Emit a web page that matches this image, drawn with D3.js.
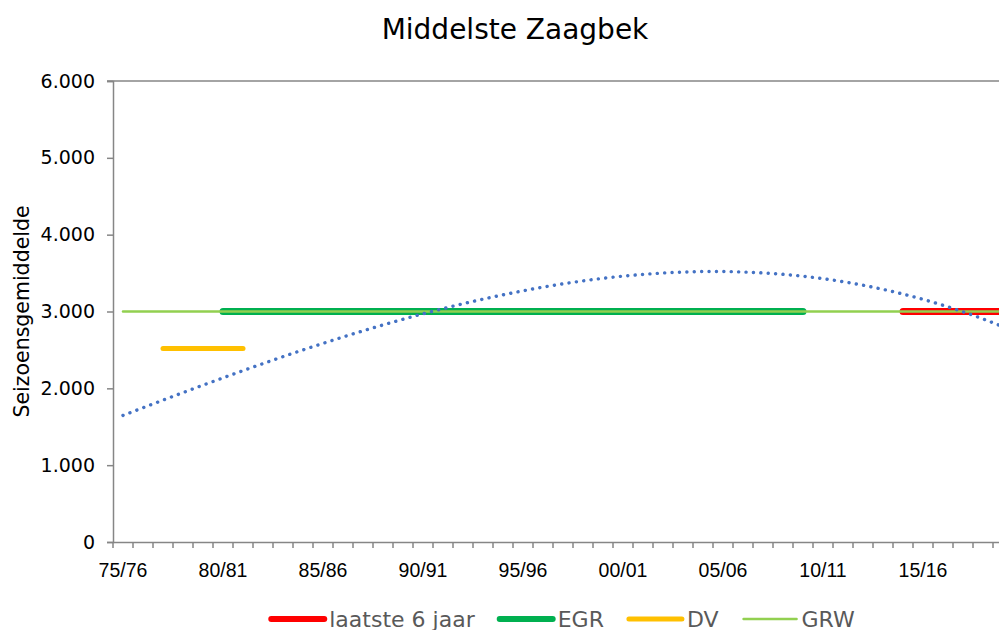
<!DOCTYPE html>
<html lang="nl">
<head>
<meta charset="UTF-8">
<script src="https://cdn.jsdelivr.net/npm/d3@7"></script>
<title>Middelste Zaagbek</title>
<style>
  body { margin: 0; background: #fff; }
  svg { display: block; font-family: "DejaVu Sans", sans-serif; }
</style>
</head>
<body>
<div id="chart"></div>
<script>
// seizoenen op de x-as (grafiek loopt rechts buiten beeld door)
const seasons = ["75/76","76/77","77/78","78/79","79/80","80/81","81/82","82/83","83/84","84/85",
  "85/86","86/87","87/88","88/89","89/90","90/91","91/92","92/93","93/94","94/95",
  "95/96","96/97","97/98","98/99","99/00","00/01","01/02","02/03","03/04","04/05",
  "05/06","06/07","07/08","08/09","09/10","10/11","11/12","12/13","13/14","14/15",
  "15/16","16/17","17/18","18/19","19/20"];
const tickSeasons = ["75/76","80/81","85/86","90/91","95/96","00/01","05/06","10/11","15/16"];
const yTicks = [0, 1000, 2000, 3000, 4000, 5000, 6000];

const trend = [1647,1747,1846,1944,2041,2136,2230,2322,2412,2500,
  2585,2668,2748,2825,2899,2970,3037,3101,3161,3217,
  3269,3317,3360,3398,3432,3460,3483,3501,3513,3520,
  3520,3514,3502,3484,3459,3427,3388,3342,3288,3227,
  3158,3081,2996,2903,2801];

const laatstePeriod = ["14/15", "19/20"], laatsteValue = 3000;
const egrPeriod = ["80/81", "09/10"], egrValue = 3000;
const dvPeriod = ["77/78", "81/82"], dvValue = 2520;
const grwPeriod = ["75/76", "19/20"], grwValue = 3000;

const width = 999, height = 630;
const plot = { left: 113, right: 1013, top: 81, bottom: 542 };
const axisColor = "#868686";

const svg = d3.select("#chart").append("svg")
    .attr("width", width)
    .attr("height", height);

const x = d3.scaleBand().domain(seasons).range([plot.left, plot.right]);
const y = d3.scaleLinear().domain([0, 6000]).range([plot.bottom, plot.top]);
const cx = s => x(s) + x.bandwidth() / 2;
const fmt = v => v === 0 ? "0" : d3.format(",")(v).replace(/,/g, ".");

svg.append("text")
    .attr("x", 515).attr("y", 39)
    .attr("text-anchor", "middle")
    .attr("font-size", 28)
    .attr("fill", "#000")
    .text("Middelste Zaagbek");

// top rand
svg.append("line")
    .attr("x1", plot.left - 6).attr("x2", plot.right)
    .attr("y1", y(6000)).attr("y2", y(6000))
    .attr("stroke", axisColor).attr("stroke-width", 1.5);

// y-as
const yAxis = svg.append("g")
    .attr("transform", `translate(${plot.left},0)`)
    .call(d3.axisLeft(y).tickValues(yTicks).tickFormat(fmt).tickSize(6).tickPadding(12));
yAxis.select(".domain").attr("stroke", axisColor).attr("stroke-width", 1.5);
yAxis.selectAll(".tick line").attr("stroke", axisColor).attr("stroke-width", 1.5);
yAxis.selectAll(".tick text")
    .attr("font-size", 19).attr("font-family", "DejaVu Sans").attr("fill", "#000");

// x-as
const xAxis = svg.append("g")
    .attr("transform", `translate(0,${plot.bottom})`)
    .call(d3.axisBottom(x).tickValues([]).tickSizeOuter(0));
xAxis.select(".domain").attr("stroke", axisColor).attr("stroke-width", 1.5);
xAxis.selectAll(".minor")
    .data(seasons)
    .enter().append("line")
    .attr("x1", d => x(d)).attr("x2", d => x(d))
    .attr("y1", 0).attr("y2", 6)
    .attr("stroke", axisColor).attr("stroke-width", 1.5);
xAxis.selectAll(".lbl")
    .data(tickSeasons)
    .enter().append("text")
    .attr("x", d => cx(d)).attr("y", 35)
    .attr("text-anchor", "middle")
    .attr("font-size", 19.5)
    .attr("fill", "#000")
    .text(d => d);

svg.append("text")
    .attr("transform", `translate(22,${(plot.top + plot.bottom) / 2}) rotate(-90)`)
    .attr("text-anchor", "middle")
    .attr("dominant-baseline", "central")
    .attr("font-size", 20.5)
    .attr("fill", "#000")
    .text("Seizoensgemiddelde");

// horizontale referentielijnen
function hline(period, value, color, w) {
    svg.append("line")
        .attr("x1", cx(period[0])).attr("x2", cx(period[1]))
        .attr("y1", y(value)).attr("y2", y(value))
        .attr("stroke", color).attr("stroke-width", w)
        .attr("stroke-linecap", "round");
}
hline(laatstePeriod, laatsteValue, "#FF0000", 7);
hline(egrPeriod, egrValue, "#00B050", 7);
hline(dvPeriod, dvValue, "#FFC000", 5);
hline(grwPeriod, grwValue, "#92D050", 2.5);

// trendlijn
const line = d3.line()
    .x((d, i) => cx(seasons[i]))
    .y(d => y(d))
    .curve(d3.curveMonotoneX);
svg.append("path")
    .datum(trend)
    .attr("d", line)
    .attr("fill", "none")
    .attr("stroke", "#4472C4")
    .attr("stroke-width", 3.4)
    .attr("stroke-linecap", "round")
    .attr("stroke-dasharray", "0.1 7.3");

// legenda
const legendItems = [
    { name: "laatste 6 jaar", color: "#FF0000", w: 6 },
    { name: "EGR", color: "#00B050", w: 6 },
    { name: "DV", color: "#FFC000", w: 5 },
    { name: "GRW", color: "#92D050", w: 2.5 }
];
const legend = svg.append("g");
let lx = 0;
legendItems.forEach(item => {
    legend.append("line")
        .attr("x1", lx + 2).attr("x2", lx + 55)
        .attr("y1", 619).attr("y2", 619)
        .attr("stroke", item.color).attr("stroke-width", item.w)
        .attr("stroke-linecap", "round");
    const t = legend.append("text")
        .attr("x", lx + 60).attr("y", 619)
        .attr("dominant-baseline", "central")
        .attr("font-size", 22)
        .attr("fill", "#595959")
        .text(item.name);
    lx += 60 + t.node().getComputedTextLength() + 23;
});
legend.attr("transform", `translate(${562 - (lx - 23) / 2},0)`);
</script>
</body>
</html>
